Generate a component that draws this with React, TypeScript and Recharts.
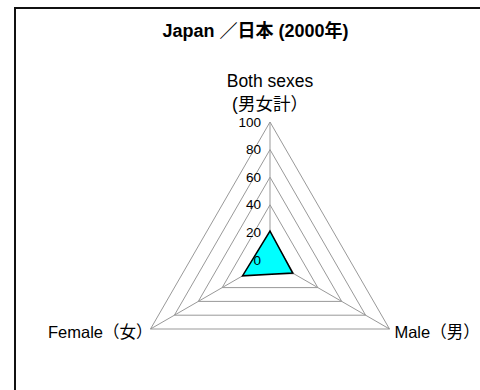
import { RadarChart, Radar, PolarGrid, PolarAngleAxis, PolarRadiusAxis } from 'recharts';

const CATEGORIES = ['Both sexes\n(男女計）', 'Male（男）', 'Female（女）'];
const VALUES = [21, 19, 23];
const RADIUS_TICKS = [0, 20, 40, 60, 80, 100];

const FONT = '"Liberation Sans", Arial, "Noto Sans CJK JP", sans-serif';

const data = CATEGORIES.map((name, i) => ({ name, value: VALUES[i] }));

function AngleTick({ x, y, payload, textAnchor }: any) {
  const lines = String(payload.value).split('\n');
  if (lines.length > 1) {
    return (
      <text x={x} y={y} textAnchor="middle" fontSize={17.5} fontFamily={FONT} fill="#000">
        <tspan x={x} dy={-27}>{lines[0]}</tspan>
        <tspan x={x} dy={23}>{lines[1]}</tspan>
      </text>
    );
  }
  const dx = textAnchor === 'end' ? 9 : -2;
  return (
    <text x={x + dx} y={y} dy={5} textAnchor={textAnchor} fontSize={16.5} fontFamily={FONT} fill="#000">
      {payload.value}
    </text>
  );
}

function RadiusTick({ x, y, payload }: any) {
  return (
    <text x={x - 9} y={y} dy={4.5} textAnchor="end" fontSize={13.5} fontFamily={FONT} fill="#000">
      {payload.value}
    </text>
  );
}

export default function App() {
  return (
    <div style={{ position: 'relative', width: 480, height: 390, overflow: 'hidden', background: '#fff' }}>
      <style>{'html,body{margin:0;overflow:hidden}'}</style>
      <div
        style={{
          position: 'absolute', left: 14, top: 7, width: 700, height: 500,
          border: '2px solid #111', boxSizing: 'border-box',
        }}
      />
      <div
        style={{
          position: 'absolute', left: 0, top: 21, width: 511, textAlign: 'center', lineHeight: '20px',
          fontFamily: FONT, fontWeight: 'bold', fontSize: 18, color: '#000',
        }}
      >
        Japan ／日本 (2000年)
      </div>
      <div style={{ position: 'absolute', left: 0, top: 0 }}>
        <RadarChart width={480} height={390} data={data} cx={270} cy={260} outerRadius={138}>
          <PolarGrid gridType="polygon" stroke="#999" strokeWidth={1} />
          <PolarAngleAxis dataKey="name" tick={AngleTick} tickLine={false} axisLine={false} />
          <PolarRadiusAxis
            angle={90}
            domain={[0, 100]}
            ticks={RADIUS_TICKS}
            tickCount={6}
            axisLine={false}
            tickLine={false}
            tick={RadiusTick}
          />
          <Radar dataKey="value" fill="#00ffff" fillOpacity={1} stroke="#000" strokeWidth={1.5} isAnimationActive={false} />
        </RadarChart>
      </div>
    </div>
  );
}
